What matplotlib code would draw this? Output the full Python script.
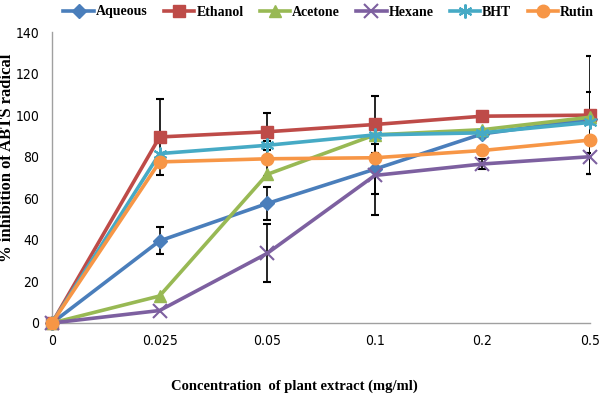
import matplotlib
matplotlib.use("Agg")
import matplotlib.pyplot as plt
from matplotlib import font_manager as fm

categories = ["0", "0.025", "0.05", "0.1", "0.2", "0.5"]
series_names = ["Aqueous", "Ethanol", "Acetone", "Hexane", "BHT", "Rutin"]
aqueous = [0, 39.5, 57.5, 74, 91, 98]
ethanol = [0, 89.5, 92, 95.5, 99.5, 100]
acetone = [0, 13, 71.5, 90.5, 93, 99]
hexane = [0, 6, 33.5, 71, 76.5, 80]
bht = [0, 81.5, 85.5, 90.5, 91.5, 96.5]
rutin = [0, 77.5, 79, 79.5, 83, 88]

err_aqueous = [0, 6.5, 8, 12, 0, 0]
err_ethanol = [0, 18.5, 9, 13.5, 0, 28.5]
err_acetone = [0, 0, 0, 0, 0, 0]
err_hexane = [0, 0, 14, 19, 2.5, 8.5]
err_bht = [0, 0, 0, 0, 0, 14.5]
err_rutin = [0, 0, 8.5, 0, 0, 0]

values = [aqueous, ethanol, acetone, hexane, bht, rutin]
errors = [err_aqueous, err_ethanol, err_acetone, err_hexane, err_bht, err_rutin]
colors = ["#4a7ebb", "#be4b48", "#98b954", "#7d60a0", "#46aac5", "#f79646"]
markers = ["D", "s", "^", "x", (6, 2, 0), "o"]
msizes = [7, 9, 8, 10, 10, 9]

names = {f.name for f in fm.fontManager.ttflist}
if "Liberation Sans Narrow" in names:
    tick_kw = dict(fontfamily="Liberation Sans Narrow")
else:
    tick_kw = dict(fontfamily="DejaVu Sans", fontstretch="condensed")
serif = "Liberation Serif"

fig = plt.figure(figsize=(6, 4.08), dpi=100)
ax = fig.add_axes([52/600, (408-323)/408, (590-52)/600, (323-32)/408])
x = list(range(len(categories)))

for vals, errs in zip(values, errors):
    for xi, v, e in zip(x, vals, errs):
        if e > 0:
            ax.errorbar([xi], [v], yerr=[e], fmt="none", ecolor="black",
                        elinewidth=1.2, capsize=3, capthick=1.5, zorder=1)

for name, vals, c, m, ms in zip(series_names, values, colors, markers, msizes):
    mew = 1.5 if m in ("x",) or isinstance(m, tuple) else 1
    ax.plot(x, vals, color=c, lw=2.6, marker=m, ms=ms, mec=c, mfc=c,
            mew=mew, label=name, zorder=3, clip_on=False)

ax.set_xlim(0, 5)
ax.set_ylim(0, 140)
ax.set_yticks(range(0, 141, 20))
ax.set_xticks(x)
ax.set_xticklabels(categories)
ax.tick_params(length=0, labelsize=10)
ax.tick_params(axis="x", pad=8)
ax.tick_params(axis="y", pad=9)
for lab in ax.get_xticklabels() + ax.get_yticklabels():
    lab.set(**tick_kw)
for s in ["top", "right"]:
    ax.spines[s].set_visible(False)
for s in ["left", "bottom"]:
    ax.spines[s].set_color("#a0a0a0")
    ax.spines[s].set_linewidth(1)

fig.text(7/600, (408-158)/408, "% inhibition of ABTS radical", rotation=90,
         ha="center", va="center", fontsize=12, fontweight="bold", family=serif)
fig.text(0.49, (408-386)/408, "Concentration  of plant extract (mg/ml)",
         ha="center", va="center", fontsize=10.5, fontweight="bold", family=serif)

leg = fig.legend(loc="center", bbox_to_anchor=(0.548, (408-12)/408), ncol=6,
                 frameon=False, handlelength=2.2, handletextpad=0.15,
                 columnspacing=1.15, prop={"family": serif, "weight": "bold", "size": 10})

fig.savefig("out.png", dpi=100)
